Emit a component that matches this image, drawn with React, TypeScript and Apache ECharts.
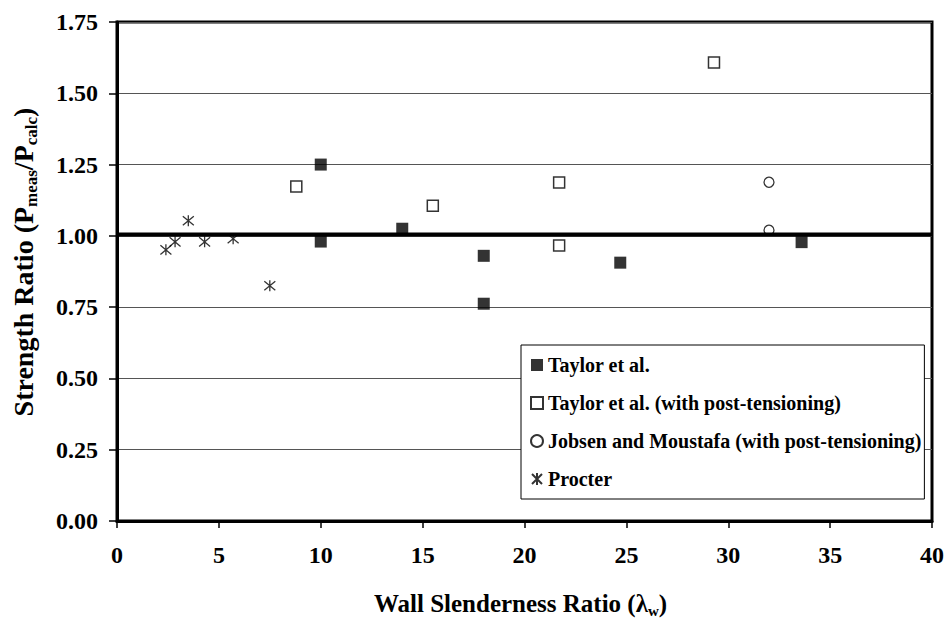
import React, { useEffect, useRef } from "react";
import * as echarts from "echarts";

const taylor: [number, number][] = [
  [10, 1.25], [10, 0.98], [14, 1.025], [18, 0.93], [18, 0.762], [24.7, 0.906], [33.6, 0.978],
];
const taylorPT: [number, number][] = [
  [8.8, 1.173], [15.5, 1.106], [21.7, 1.187], [21.7, 0.966], [29.3, 1.608],
];
const jobsen: [number, number][] = [
  [32, 1.188], [32, 1.02],
];
const procter: [number, number][] = [
  [2.4, 0.951], [2.85, 0.979], [3.5, 1.053], [4.3, 0.979], [5.7, 0.99], [7.5, 0.825],
];
const referenceLine: [number, number][] = [
  [0, 1.005], [40, 1.005],
];
const seriesNames = [
  "Taylor et al.",
  "Taylor et al. (with post-tensioning)",
  "Jobsen and Moustafa (with post-tensioning)",
  "Procter",
];

const FONT = "Liberation Serif";
const ASTERISK = "path://M0,0L10,10M10,0L0,10M5,-1L5,11";

export default function App() {
  const ref = useRef<HTMLDivElement>(null);
  useEffect(() => {
    if (!ref.current) return;
    const chart = echarts.init(ref.current, undefined, { renderer: "svg" });
    chart.setOption({
      animation: false,
      backgroundColor: "#fff",
      textStyle: { fontFamily: FONT },
      grid: {
        left: 117,
        right: 17,
        top: 22,
        bottom: 100,
        containLabel: false,
        outerBoundsMode: "none",
        show: true,
        borderColor: "#000",
        borderWidth: 3,
      },
      xAxis: {
        type: "value",
        min: 0,
        max: 40,
        interval: 5,
        name: "{a|Wall Slenderness Ratio (λ}{s|w}{a|)}",
        nameLocation: "middle",
        nameGap: 67,
        nameTextStyle: {
          fontFamily: FONT,
          padding: [0, 8, 0, 0],
          rich: {
            a: { fontFamily: FONT, fontWeight: "bold", fontSize: 25, color: "#000", lineHeight: 30, verticalAlign: "middle" },
            s: { fontFamily: FONT, fontWeight: "bold", fontSize: 15, color: "#000", lineHeight: 16, verticalAlign: "bottom" },
          },
        },
        axisLine: { lineStyle: { color: "#000", width: 3 } },
        axisTick: { show: true, inside: false, length: 7, lineStyle: { color: "#000", width: 1.5 } },
        axisLabel: { fontFamily: FONT, fontWeight: "bold", fontSize: 24, color: "#000", margin: 22 },
        splitLine: { show: false },
      },
      yAxis: {
        type: "value",
        min: 0,
        max: 1.75,
        interval: 0.25,
        name: "{a|Strength Ratio (P}{s|meas}{a|/P}{s|calc}{a|)}",
        nameLocation: "middle",
        nameRotate: 90,
        nameGap: 77,
        nameTextStyle: {
          fontFamily: FONT,
          padding: [0, 0, 0, 19],
          rich: {
            a: { fontFamily: FONT, fontWeight: "bold", fontSize: 28, color: "#000", lineHeight: 34, verticalAlign: "middle" },
            s: { fontFamily: FONT, fontWeight: "bold", fontSize: 17, color: "#000", lineHeight: 18, verticalAlign: "bottom" },
          },
        },
        axisLine: { show: true, lineStyle: { color: "#000", width: 3 } },
        axisTick: { show: true, inside: false, length: 8, lineStyle: { color: "#000", width: 1.5 } },
        axisLabel: {
          fontFamily: FONT,
          fontWeight: "bold",
          fontSize: 24,
          color: "#000",
          margin: 19,
          formatter: (v: number) => v.toFixed(2),
        },
        splitLine: { show: true, lineStyle: { color: "#555", width: 1 } },
      },
      legend: {
        data: seriesNames,
        orient: "vertical",
        left: 521,
        top: 345,
        backgroundColor: "#fff",
        borderColor: "#000",
        borderWidth: 1,
        padding: [9, 3, 9, 9],
        itemGap: 16,
        itemWidth: 12,
        itemHeight: 12,
        textStyle: { fontFamily: FONT, fontWeight: "bold", fontSize: 20, color: "#000", lineHeight: 22 },
      },
      series: [
        {
          name: seriesNames[0],
          type: "scatter",
          data: taylor,
          symbol: "rect",
          symbolSize: 12,
          itemStyle: { color: "#000", borderColor: "#000", borderWidth: 0 },
          z: 2,
        },
        {
          name: seriesNames[1],
          type: "scatter",
          data: taylorPT,
          symbol: "rect",
          symbolSize: 11,
          itemStyle: { color: "#fff", borderColor: "#000", borderWidth: 1.5 },
          z: 2,
        },
        {
          name: seriesNames[2],
          type: "scatter",
          data: jobsen,
          symbol: "circle",
          symbolSize: 10,
          itemStyle: { color: "#fff", borderColor: "#000", borderWidth: 1.3 },
          z: 2,
        },
        {
          name: seriesNames[3],
          type: "scatter",
          data: procter,
          symbol: ASTERISK,
          symbolSize: 11,
          itemStyle: { color: "#000", borderColor: "#000", borderWidth: 1.3 },
          z: 2,
        },
        {
          name: "ref",
          type: "line",
          data: referenceLine,
          symbol: "none",
          lineStyle: { color: "#000", width: 4 },
          z: 5,
          silent: true,
        },
      ],
    });
    return () => chart.dispose();
  }, []);
  return <div ref={ref} style={{ width: 949, height: 621, position: "absolute", left: 0, top: 0 }} />;
}
